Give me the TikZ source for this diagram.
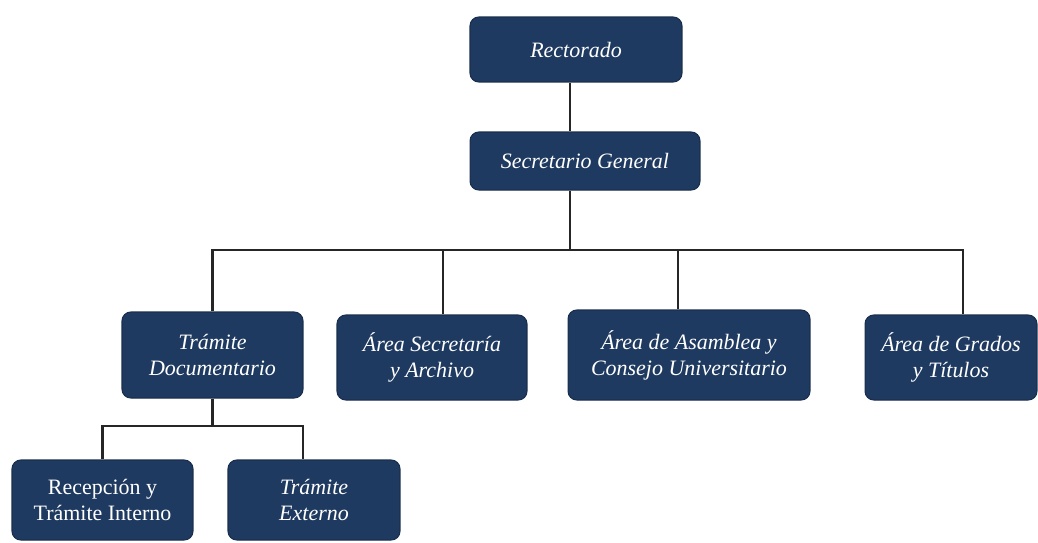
\documentclass[tikz,border=0pt]{standalone}
\usepackage{fontspec}
\setmainfont{Liberation Serif}
\definecolor{navy}{HTML}{1F3A60}

\begin{document}
\begin{tikzpicture}[
  x=0.02cm,y=-0.02cm,
  unit/.style={draw=navy!80!black,fill=navy,rounded corners=5pt,line width=0.6pt,
    text=white,align=center,inner sep=0pt,
    font=\fontsize{12.5pt}{14.8pt}\selectfont\itshape},
  link/.style={draw=black!85,line width=1.4pt},
]
\useasboundingbox (0,0) rectangle (1038,542);
\node[unit,minimum width=4.24cm,minimum height=1.30cm] (rect) at (576,49.5) {Rectorado};
\node[unit,minimum width=4.60cm,minimum height=1.16cm] (secg) at (585,161) {Secretario General};
\node[unit,minimum width=3.62cm,minimum height=1.72cm] (tdoc) at (212.5,355) {Trámite\\Documentario};
\node[unit,minimum width=3.80cm,minimum height=1.70cm] (asec) at (432,357.5) {Área Secretaría\\y Archivo};
\node[unit,minimum width=4.84cm,minimum height=1.80cm] (aasa) at (689,355) {Área de Asamblea y\\Consejo Universitario};
\node[unit,minimum width=3.44cm,minimum height=1.70cm] (agra) at (951,357.5) {Área de Grados\\y Títulos};
\node[unit,minimum width=3.62cm,minimum height=1.60cm,font=\fontsize{12.5pt}{14.8pt}\selectfont] (rint) at (102.5,500) {Recepción y\\Trámite Interno};
\node[unit,minimum width=3.44cm,minimum height=1.60cm] (text) at (314,500) {Trámite\\Externo};
\coordinate (bus1) at (570,250);
\coordinate (bus2) at (213,426);
\draw[link] ([xshift=-0.12cm]rect.south) -- ([xshift=-0.12cm]rect.south |- secg.north);
\draw[link] (bus1 |- secg.south) -- (bus1);
\draw[link] (tdoc.north) |- (bus1) -| ([xshift=0.24cm]agra.north);
\draw[link] ([xshift=0.22cm]asec.north) -- ([xshift=0.22cm]asec.north |- bus1);
\draw[link] ([xshift=-0.22cm]aasa.north) -- ([xshift=-0.22cm]aasa.north |- bus1);
\draw[link] (tdoc.south) -- (tdoc.south |- bus2);
\draw[link] (rint.north) |- (bus2) -| ([xshift=-0.22cm]text.north);
\end{tikzpicture}
\end{document}
